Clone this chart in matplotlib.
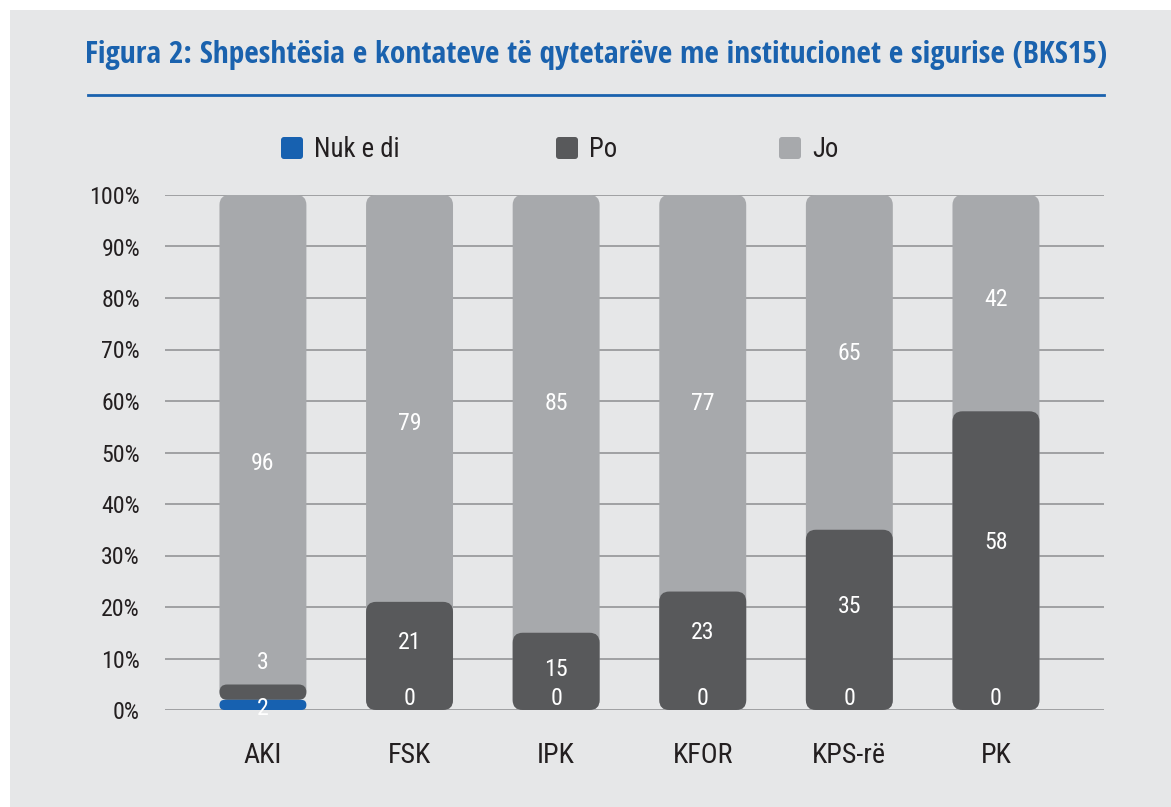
import numpy as np
import matplotlib.pyplot as plt
from matplotlib import font_manager as fm
from matplotlib.textpath import TextPath
from matplotlib.patches import FancyBboxPatch, Rectangle

# data
categories = ['AKI', 'FSK', 'IPK', 'KFOR', 'KPS-rë', 'PK']
series = ['Nuk e di', 'Po', 'Jo']
nuk_e_di = [2, 0, 0, 0, 0, 0]
po = [3, 21, 15, 23, 35, 58]
jo = [96, 79, 85, 77, 65, 42]
yticks = np.arange(0, 101, 10)
title_text = 'Figura 2: Shpeshtësia e kontateve të qytetarëve me institucionet e sigurise (BKS15)'

# label heights (in %) as they sit in the original
lab_nuk = [0.6, 2.7, 2.7, 2.7, 2.7, 2.7]
lab_po = [9.7, 13.4, 8.2, 15.5, 20.4, 33.0]
lab_jo = [48.2, 56.0, 60.0, 60.0, 69.7, 80.0]

colors = ['#1761b0', '#58595b', '#a7a9ac']
bg = '#e6e7e8'
blue = '#1a62ae'
txt = '#231f20'
PT = 100 / 72.0  # pixels per point

FAMS = ('DejaVu Sans', 'Liberation Sans', 'Noto Sans', 'Roboto', 'Open Sans', 'Lato', 'Inter')


def ink(s, fp):
    e = TextPath((0, 0), s, prop=fp).get_extents()
    return e.width, e.height


def candidates(bold):
    out = {}
    for f in fm.fontManager.ttflist:
        n = f.name
        base = n.replace(' Condensed', '').replace(' Narrow', '').replace(' SemiCondensed', '') \
                .replace(' ExtraCondensed', '')
        if base not in FAMS:
            continue
        if f.style != 'normal' or not f.fname.lower().endswith(('.ttf', '.otf')):
            continue
        w = f.weight if isinstance(f.weight, int) else (700 if 'bold' in str(f.weight) else 400)
        if (bold and w != 700) or (not bold and w != 400):
            continue
        out[f.fname] = f
    return list(out)[:40]


def pick(files, targets, fallback):
    best = None
    for fn in files:
        fp = fm.FontProperties(fname=fn, size=20)
        try:
            cap = ink('H', fp)[1]
            err = sum(np.log(ink(s, fp)[0] / cap / r) ** 2 for s, r in targets)
        except Exception:
            continue
        if best is None or err < best[0]:
            best = (err, fn)
    return best[1] if best else fallback


dv = fm.findfont('DejaVu Sans')
body_file = pick(candidates(False), [('100%', 2.76), ('Nuk e di', 4.68), ('AKI', 1.95)], dv)
title_file = pick(candidates(True), [('Figura 2: Shpeshtësia e kontateve', 17.5)], dv)


def font(fname, cap_px):
    # font properties whose capital height is cap_px pixels
    fp = fm.FontProperties(fname=fname, size=20)
    cap = ink('H', fp)[1] * PT
    return fm.FontProperties(fname=fname, size=20 * cap_px / cap)


W, H = 1171, 807
fig = plt.figure(figsize=(W / 100, H / 100), dpi=100, facecolor='white')
fig.patches.append(Rectangle((10 / W, 0), 1, (H - 10) / H, transform=fig.transFigure,
                             facecolor=bg, edgecolor='none', zorder=-10))

ax = fig.add_axes([165 / W, 97 / H, 939 / W, 515 / H])
ax.set_facecolor('none')
xmin, xmax = -0.668, 5.737
ax.set_xlim(xmin, xmax)
ax.set_ylim(0, 100)

px_x = 939 / (xmax - xmin)  # pixels per x unit
px_y = 515 / 100.0           # pixels per y unit
bw = 0.593
rad = 10  # corner radius in pixels


def rbar(x, y0, y1, color, z):
    h = y1 - y0
    if h <= 0:
        return
    aspect = px_x / px_y
    r = min(rad / px_x, bw / 2, h / aspect / 2)
    p = FancyBboxPatch((x - bw / 2, y0), bw, h,
                       boxstyle='round,pad=0,rounding_size=%f' % r,
                       mutation_aspect=aspect, facecolor=color,
                       edgecolor='none', zorder=z)
    ax.add_patch(p)


lab_font = font(body_file, 17)
vals = np.array([nuk_e_di, po, jo], dtype=float)
pct = vals / vals.sum(axis=0) * 100
for i in range(len(categories)):
    a, b, c = pct[:, i]
    rbar(i, a, a + b + c, colors[2], 2)
    rbar(i, a, a + b, colors[1], 3)
    rbar(i, 0, a, colors[0], 4)
    for v, yy in zip([nuk_e_di[i], po[i], jo[i]], [lab_nuk[i], lab_po[i], lab_jo[i]]):
        ax.text(i, yy - 8.5 / px_y, str(v), ha='center', va='baseline', color='white',
                fontproperties=lab_font, zorder=6)

ax.set_yticks(yticks)
ax.set_yticklabels(['%d%%' % t for t in yticks], fontproperties=font(body_file, 17), color=txt)
ax.set_xticks(range(len(categories)))
ax.set_xticklabels(categories, fontproperties=font(body_file, 20), color=txt)
for t in ax.get_xticklabels():
    t.set_va('baseline')
ax.tick_params(axis='y', length=0, pad=25 / PT)
ax.tick_params(axis='x', length=0, pad=53 / PT)
ax.grid(axis='y', color='#9a9b9d', linewidth=1.3, zorder=0)
ax.set_axisbelow(True)
for s in ax.spines.values():
    s.set_visible(False)

# legend: rounded squares with labels
leg_x = [281, 556, 779]
leg_font = font(body_file, 19)
for c, name, lx in zip(colors, series, leg_x):
    sq = FancyBboxPatch((lx / W, 1 - 159 / H), 22 / W, 22 / H,
                        boxstyle='round,pad=0,rounding_size=%f' % (3 / W),
                        mutation_aspect=W / H, transform=fig.transFigure,
                        facecolor=c, edgecolor='none')
    fig.patches.append(sq)
    fig.text((lx + 33) / W, 1 - 157 / H, name, ha='left', va='baseline',
             color=txt, fontproperties=leg_font)

tfont = font(title_file, 21)
title = fig.text(85 / W, 1 - 63 / H, title_text,
                 ha='left', va='baseline', color=blue, fontproperties=tfont)
# fit title width to the original
fig.canvas.draw()
bb = title.get_window_extent()
title.set_fontsize(tfont.get_size() * 1018 / bb.width)

fig.add_artist(plt.Line2D([88 / W, 1104 / W], [1 - 95 / H, 1 - 95 / H],
                          transform=fig.transFigure, color=blue, linewidth=2))

fig.savefig('out.png', dpi=100, facecolor=fig.get_facecolor())
